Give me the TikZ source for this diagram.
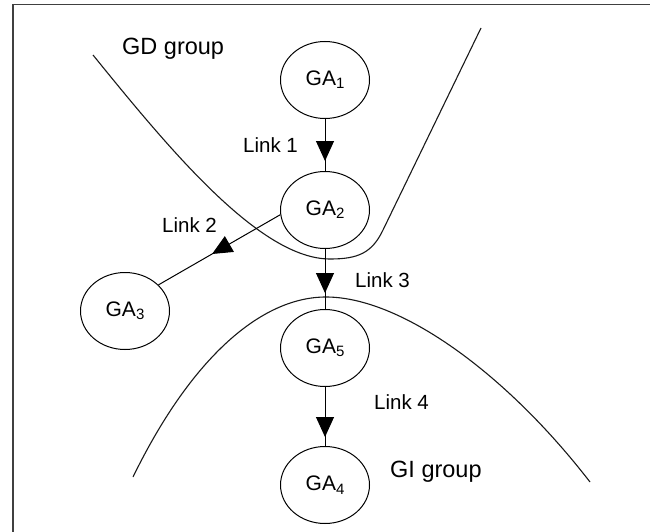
\documentclass[tikz,border=0pt]{standalone}
\usepackage{fontspec}
\setmainfont{Liberation Sans}
\usetikzlibrary{shapes.geometric,arrows.meta,decorations.markings}

% agent label with a lowered index
\newcommand{\agentname}[1]{GA\raisebox{-0.3ex}{\fontsize{15}{15}\selectfont #1}}

\tikzset{
  agent/.style={ellipse, draw, line width=1pt, minimum width=89pt, minimum height=77pt,
    inner sep=0pt, font=\fontsize{21}{25}\selectfont},
  lbl/.style={anchor=base west, inner sep=0pt, font=\fontsize{20.5}{25}\selectfont},
  grp/.style={anchor=base west, inner sep=0pt, font=\fontsize{23.5}{27}\selectfont},
  curve/.style={line width=1.1pt, black!90},
  link/.style={line width=1pt, postaction={decorate},
    decoration={markings, mark=at position #1 with {\arrow{Triangle[length=20pt,width=18pt]}}}},
}

\begin{document}
\begin{tikzpicture}[x=1pt, y=-1pt]
  \useasboundingbox (0,0) rectangle (650,532);

  % outer frame (open towards the right and bottom edges)
  \draw[line width=1.8pt, black!75] (13,532) -- (13,4.5) -- (650,4.5);

  % group boundaries
  \draw[curve] (93,55) .. controls (170,150) and (260,259) .. (330,259)
    .. controls (358,259) and (372,253) .. (383,230) -- (481,28);
  \draw[curve] (133,477) .. controls (190,360) and (260,297) .. (326,297)
    .. controls (400,297) and (505,372) .. (590,482);

  % agents
  \node[agent] (ga1) at (325,80)  {\agentname{1}};
  \node[agent] (ga2) at (325,210) {\agentname{2}};
  \node[agent] (ga3) at (125,311) {\agentname{3}};
  \node[agent] (ga5) at (325,348) {\agentname{5}};
  \node[agent] (ga4) at (325,485) {\agentname{4}};

  % links
  \draw[link=42pt] (ga1) -- (ga2);
  \draw[link=0.56] (ga2.186) -- (ga3.38);
  \draw[link=44pt] (ga2) -- (ga5);
  \draw[link=50pt] (ga5) -- (ga4);

  % labels
  \node[grp] (gd) at (122,55)  {GD group};
  \node[grp] (gi) at (390,477) {GI group};
  \node[lbl] (l1) at (243,153) {Link 1};
  \node[lbl] (l2) at (162,232) {Link 2};
  \node[lbl] (l3) at (355,287) {Link 3};
  \node[lbl] (l4) at (374,409) {Link 4};
\end{tikzpicture}
\end{document}
